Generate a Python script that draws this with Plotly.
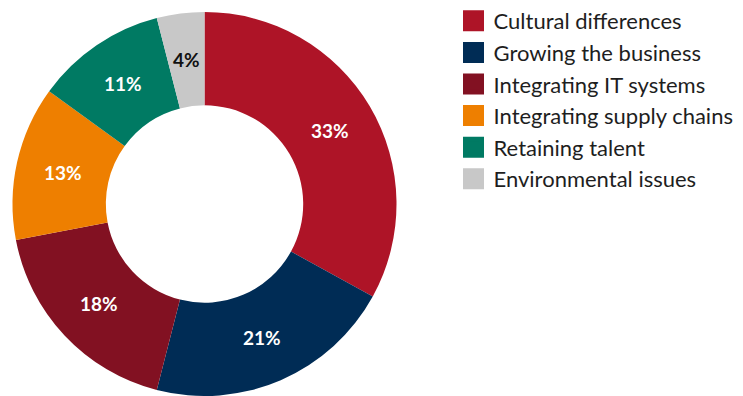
import math
import plotly.graph_objects as go

# Survey breakdown: biggest post-merger challenges
categories = [
    "Cultural differences",
    "Growing the business",
    "Integrating IT systems",
    "Integrating supply chains",
    "Retaining talent",
    "Environmental issues",
]
shares = [33, 21, 18, 13, 11, 4]
colors = ["#AE1427", "#002C55", "#821122", "#EE7F00", "#007A63", "#C8C8C8"]
label_colors = ["#FFFFFF", "#FFFFFF", "#FFFFFF", "#FFFFFF", "#FFFFFF", "#111111"]

FONT = "Lato"
W, H = 743, 396
HOLE = 0.514
PIE_X = [0.0155, 0.535]
PIE_Y = [0.0, 384 / 396]

fig = go.Figure()

fig.add_trace(go.Pie(
    labels=categories,
    values=shares,
    sort=False,
    direction="clockwise",
    rotation=0,
    hole=HOLE,
    marker=dict(colors=colors, line=dict(width=0)),
    textinfo="none",
    domain=dict(x=PIE_X, y=PIE_Y),
    showlegend=False,
    hoverinfo="label+percent",
))

# Percentage labels centred in each ring segment (mid-angle, mid-radius)
cx = (PIE_X[0] + PIE_X[1]) / 2 * W
cy_up = (PIE_Y[0] + PIE_Y[1]) / 2 * H
outer_r = min((PIE_X[1] - PIE_X[0]) * W, (PIE_Y[1] - PIE_Y[0]) * H) / 2
mid_r = outer_r * (1 + HOLE) / 2
total = sum(shares)
cum = 0
for val, tcol in zip(shares, label_colors):
    ang = 2 * math.pi * (cum + val / 2) / total
    cum += val
    fig.add_annotation(
        x=(cx + mid_r * math.sin(ang)) / W,
        y=(cy_up + mid_r * math.cos(ang)) / H,
        xref="paper", yref="paper",
        text=f"{val}%",
        showarrow=False,
        xanchor="center", yanchor="middle",
        font=dict(family=FONT, size=19, color=tcol, weight="bold"),
    )

# Legend entries: one square swatch per category
for name, col in zip(categories, colors):
    fig.add_trace(go.Scatter(
        x=[None], y=[None],
        mode="markers",
        name=name,
        legendgroup=name,
        marker=dict(symbol="square", size=16, color=col,
                    line=dict(width=5, color=col)),
        hoverinfo="skip",
    ))

fig.update_layout(
    width=W,
    height=H,
    margin=dict(l=0, r=0, t=0, b=0),
    paper_bgcolor="white",
    plot_bgcolor="white",
    xaxis=dict(visible=False),
    yaxis=dict(visible=False),
    legend=dict(
        x=0.6104, xanchor="left",
        y=1.0, yanchor="top",
        maxheight=396,
        font=dict(family=FONT, size=22, color="#1E1E1E"),
        tracegroupgap=0,
        itemclick=False,
        itemdoubleclick=False,
        bgcolor="rgba(0,0,0,0)",
    ),
)

fig.write_html("out.html")
